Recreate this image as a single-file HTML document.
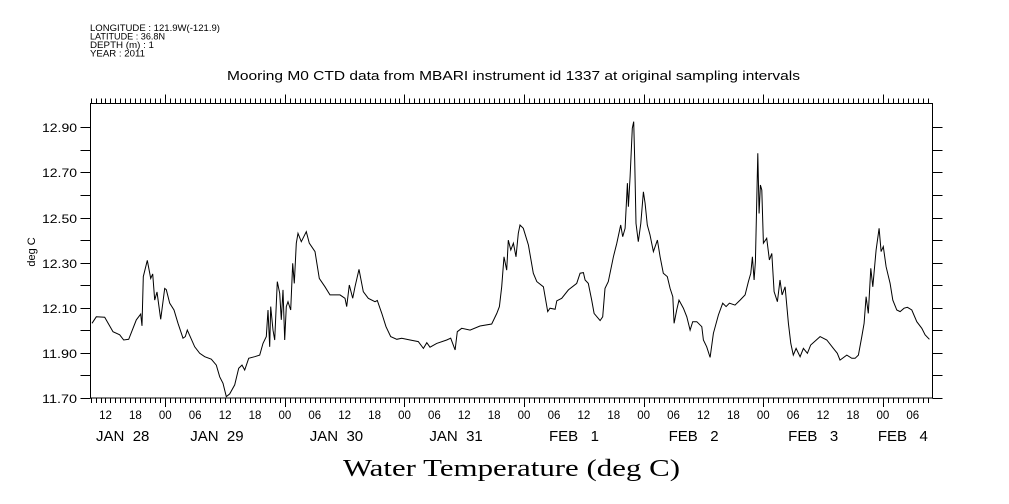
<!DOCTYPE html>
<html><head><meta charset="utf-8"><style>
body{margin:0;background:#fff;}
svg{display:block;font-family:"Liberation Sans",sans-serif;}
</style></head><body>
<svg id="chart" width="1009" height="504" viewBox="0 0 1009 504">
<g font-size="9" fill="#000">
<text x="90" y="31" textLength="130" lengthAdjust="spacingAndGlyphs">LONGITUDE : 121.9W(-121.9)</text>
<text x="90" y="39.5" textLength="75" lengthAdjust="spacingAndGlyphs">LATITUDE : 36.8N</text>
<text x="90" y="48" textLength="64" lengthAdjust="spacingAndGlyphs">DEPTH (m) : 1</text>
<text x="90" y="56.5" textLength="55" lengthAdjust="spacingAndGlyphs">YEAR : 2011</text>
</g>
<text x="227" y="80" font-size="12.5" textLength="573" lengthAdjust="spacingAndGlyphs">Mooring M0 CTD data from MBARI instrument id 1337 at original sampling intervals</text>
<text x="343" y="476" font-size="24" textLength="337" lengthAdjust="spacingAndGlyphs" font-family="Liberation Serif, serif">Water Temperature (deg C)</text>
<text transform="translate(35,252) rotate(-90)" font-size="11" text-anchor="middle">deg C</text>
<g id="axes"></g>
<path id="line" fill="none" stroke="#000" stroke-width="1"/>
</svg>
<script>
const hours=[9.29,10.16,11.84,13.51,14.85,15.65,16.66,18.18,19.07,19.33,19.59,20.39,21.07,21.47,21.88,22.34,23.08,23.88,24.2,24.89,25.75,26.55,27.56,28.02,28.42,29.9,30.91,31.91,33.24,34.24,34.92,35.58,36.25,36.93,37.93,38.74,39.4,39.94,40.74,41.95,42.95,43.61,44.27,44.62,44.96,45.16,45.62,45.96,46.48,46.96,47.28,47.63,47.97,48.29,48.63,49.17,49.57,49.89,50.3,50.64,51.3,52.3,52.9,54.05,54.91,56.05,57.06,59.07,60.07,60.41,60.93,61.61,62.08,62.88,63.74,64.75,66.09,66.55,67.44,68.3,69.24,70.45,71.45,73.12,74.78,75.79,76.47,77.13,78.47,80.48,81.28,82.15,82.61,83.49,85.16,87.16,89.51,90.52,91.04,91.52,91.98,92.52,92.84,93.33,93.85,94.39,94.85,95.19,95.85,96.86,97.86,98.55,99.87,100.35,100.75,101.21,102.22,102.56,103.56,104.89,106.57,107.24,107.9,108.24,108.9,109.58,110.05,111.25,111.79,112.25,112.91,113.92,114.6,115.4,115.8,116.27,116.73,116.93,117.27,117.73,118.01,118.21,118.47,118.93,119.42,119.94,120.28,120.74,121.28,121.95,122.75,123.29,123.95,124.75,125.3,125.84,126.1,126.64,127.1,127.97,128.65,129.31,129.85,130.66,131.66,131.98,132.66,133.33,133.99,134.99,135.87,136.54,137.2,138.34,139.35,140.35,141.01,141.5,141.82,142.16,142.42,142.62,142.9,143.16,143.42,143.7,144.02,144.7,145.23,145.71,146.17,146.83,147.37,147.78,148.38,149.04,149.52,150.04,150.59,151.39,152.05,152.85,153.53,155.4,156.75,158.07,158.87,159.41,160.76,161.76,162.43,163.09,163.77,164.23,164.63,165.09,165.58,165.98,166.64,167.24,167.64,168.1,168.65,169.45,169.99,170.8,171.46,172.26,172.92,173.81,174.81,175.81,176.47,177.34];
const temps=[12.031,12.06,12.058,11.994,11.98,11.957,11.96,12.046,12.072,12.02,12.238,12.31,12.23,12.25,12.134,12.17,12.049,12.186,12.18,12.12,12.09,12.031,11.965,11.972,12.001,11.927,11.898,11.883,11.872,11.846,11.794,11.765,11.706,11.718,11.758,11.832,11.846,11.824,11.876,11.883,11.89,11.942,11.972,12.09,11.927,12.105,12.001,11.957,12.216,12.164,12.046,12.179,11.957,12.105,12.127,12.09,12.297,12.208,12.386,12.43,12.393,12.437,12.386,12.349,12.23,12.193,12.157,12.157,12.142,12.105,12.201,12.142,12.193,12.27,12.171,12.142,12.127,12.132,12.075,12.016,11.972,11.96,11.965,11.957,11.95,11.92,11.945,11.925,11.942,11.957,11.965,11.913,11.994,12.009,12.001,12.019,12.028,12.075,12.105,12.193,12.326,12.267,12.40,12.356,12.386,12.326,12.43,12.467,12.452,12.378,12.253,12.216,12.193,12.134,12.083,12.098,12.093,12.131,12.142,12.179,12.208,12.253,12.256,12.223,12.208,12.134,12.075,12.043,12.06,12.186,12.216,12.326,12.386,12.467,12.415,12.452,12.652,12.548,12.681,12.896,12.925,12.755,12.474,12.393,12.474,12.614,12.563,12.467,12.423,12.349,12.40,12.326,12.253,12.238,12.186,12.149,12.031,12.09,12.134,12.098,12.06,12.001,12.038,12.038,12.016,11.957,11.927,11.88,11.987,12.068,12.12,12.105,12.12,12.112,12.134,12.157,12.216,12.253,12.326,12.223,12.304,12.503,12.785,12.518,12.644,12.622,12.386,12.408,12.312,12.341,12.171,12.127,12.223,12.157,12.193,12.031,11.942,11.89,11.92,11.883,11.92,11.898,11.935,11.972,11.957,11.92,11.898,11.868,11.89,11.876,11.876,11.89,11.972,12.031,12.149,12.075,12.275,12.193,12.356,12.452,12.349,12.371,12.282,12.208,12.134,12.09,12.083,12.098,12.102,12.09,12.038,12.009,11.98,11.96,11.965];
const yTickLabels=["11.70","11.90","12.10","12.30","12.50","12.70","12.90"];
const hourLabels=["00","06","12","18"];
const dayLabels=["JAN  28","JAN  29","JAN  30","JAN  31","FEB   1","FEB   2","FEB   3","FEB   4"];
const dayLabelHours=[10.1,29,53,77,101,125,149,167];
const hMin=9, hMax=178, vMin=11.70, vMax=12.90;
const L=90.5,R=932.5,T=103.5,B=398;
const x=h=>45.7+h*4.983;
const y=v=>398-(v-11.70)*225.6;
const NS="http://www.w3.org/2000/svg";
const ax=document.getElementById('axes');
function mk(tag,attrs,parent){const e=document.createElementNS(NS,tag);for(const k in attrs)e.setAttribute(k,attrs[k]);(parent||ax).appendChild(e);return e;}
let d=`M${L},${T}H${R}V${B}H${L}Z`;
for(let h=hMin;h<=hMax;h++){const X=x(h);if(X<L-0.1||X>R+0.1)continue;const big=h%24===0;const len=big?9:5;const px=Math.round(X)+0.5;d+=`M${px},${B}v${len}M${px},${T}v${-len}`;
 if(h%6===0){const t=mk('text',{x:X,y:419,'font-size':11.5,'text-anchor':'middle'});t.textContent=hourLabels[(h%24)/6];
 
 }}
for(let i=0;i<=12;i++){const v=vMin+i*0.1;const Y=Math.round(y(v))+0.5;d+=`M${L-10},${Y}H${L}M${R},${Y}H${R+10}`;
 if(i%2===0){const t=mk('text',{x:42,y:Y+4.5,'font-size':11.5,textLength:35,lengthAdjust:'spacingAndGlyphs'});t.textContent=yTickLabels[i/2];
 
 }}
const frame=mk('path',{d:d,fill:'none',stroke:'#000','stroke-width':1});


dayLabels.forEach((s,i)=>{const t=mk('text',{x:x(dayLabelHours[i]),y:441,'font-size':15,'xml:space':'preserve'});t.textContent=s;t.style.whiteSpace='pre';
 
 });
let p='';hours.forEach((h,i)=>{p+=(i?'L':'M')+x(h).toFixed(1)+','+y(temps[i]).toFixed(1);});
document.getElementById('line').setAttribute('d',p);
</script>
</body></html>
